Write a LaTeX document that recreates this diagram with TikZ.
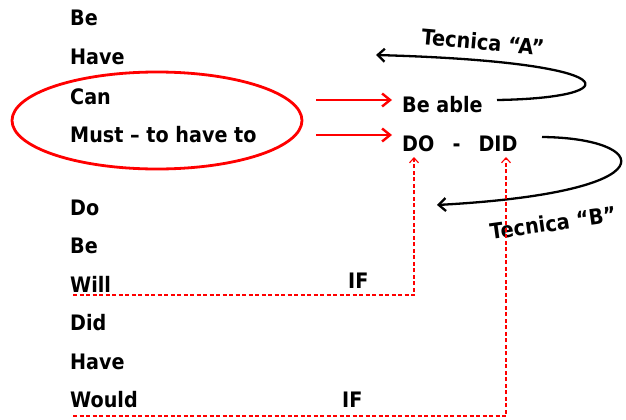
\documentclass[tikz,border=0pt]{standalone}
\usepackage{fontspec}
\setmainfont{DejaVu Sans}[FakeStretch=0.9]
\usetikzlibrary{arrows.meta}
\begin{document}
\begin{tikzpicture}[x=1pt,y=-1pt,
  lbl/.style={anchor=base west,inner sep=0pt,font=\fontsize{21.3}{24}\selectfont\bfseries},
  tech/.style={inner sep=0pt,font=\fontsize{21.5}{24}\selectfont\bfseries},
  redarrow/.style={draw=red,line width=2.4pt,-{Straight Barb[length=8pt,width=13pt,line width=2.4pt]}},
  curvearrow/.style={draw=black,line width=2.3pt,-{Straight Barb[length=7pt,width=13pt,line width=2.3pt]}},
  dashlink/.style={draw=red,line width=1.1pt,dash pattern=on 4pt off 2.5pt,-{Straight Barb[length=5pt,width=9pt,line width=1.1pt]}}]
\useasboundingbox (0,0) rectangle (626,420);
% left column
\node[lbl] (be1) at (70,26) {Be};
\node[lbl] (have1) at (70,65) {Have};
\node[lbl] (can) at (70,104) {Can};
\node[lbl] (must) at (70,142) {Must – to have to};
\node[lbl] (do) at (70,215) {Do};
\node[lbl] (be2) at (70,253) {Be};
\node[lbl] (will) at (70,292) {Will};
\node[lbl] (did) at (70,330) {Did};
\node[lbl] (have2) at (70,369) {Have};
\node[lbl] (would) at (70,407) {Would};
\node[lbl] (if1) at (348,288) {IF};
\node[lbl] (if2) at (342,407) {IF};
% ellipse
\draw[red,line width=2.8pt] (157,120.5) ellipse [x radius=145,y radius=48.5];
% right texts
\node[lbl] (beable) at (402,112) {Be able};
\node[lbl] (dodid) at (402,151) {DO\hspace{0.85em}-\hspace{0.85em}DID};
\coordinate (doTip) at (414,157);
\coordinate (didTip) at (506,157);
% red arrows
\coordinate (a1s) at (316,100);
\coordinate (a1e) at (392,100);
\coordinate (a2s) at (316,135);
\coordinate (a2e) at (392,135);
\draw[redarrow] (a1s) -- (a1e);
\draw[redarrow] (a2s) -- (a2e);
% curved arrows
\coordinate (cAs) at (497,100);
\coordinate (cAe) at (376,55);
\draw[curvearrow] (cAs) .. controls (630,98) and (630,62) .. (cAe);
\node[tech,rotate=-5] (tA) at (483,42) {Tecnica “A”};
\coordinate (cBs) at (542,137);
\coordinate (cBe) at (437,205);
\draw[curvearrow] (cBs) .. controls (650,138) and (675,192) .. (cBe);
\node[tech,rotate=8] (tB) at (553,223) {Tecnica “B”};
% dashed links
\coordinate (w1) at (73,295);
\coordinate (w2) at (73,416);
\draw[dashlink] (w1) -| (doTip);
\draw[dashlink] (w2) -| (didTip);
\end{tikzpicture}
\end{document}
